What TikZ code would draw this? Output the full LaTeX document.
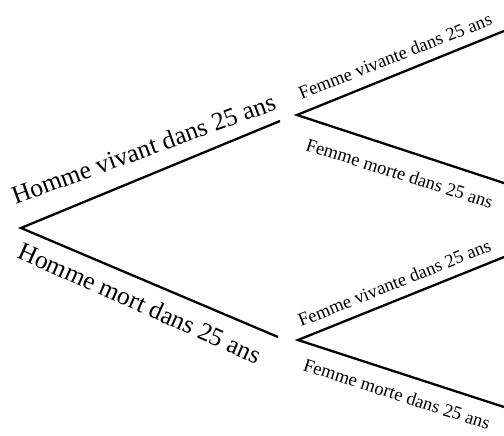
\documentclass[tikz,border=0pt]{standalone}
\usepackage{fontspec}
\setmainfont{Liberation Serif}
\usetikzlibrary{positioning, calc}

\begin{document}
\begin{tikzpicture}[
    x=1bp, y=-1bp,
    branch/.style={line width=2.3bp, line join=miter},
    homme/.style={font=\fontsize{25.7}{30}\selectfont, anchor=base, inner sep=0pt},
    femme/.style={font=\fontsize{18.6}{22}\selectfont, anchor=base, inner sep=0pt},
  ]
    \useasboundingbox (0,0) rectangle (504,436);
    \clip (0,0) rectangle (504,436);

    \coordinate (root) at (21,228);
    \coordinate (hv) at (280,121);
    \coordinate (hm) at (278,337);
    \coordinate (hvs) at (297,115);
    \coordinate (hms) at (298,340);
    \coordinate (hvfv) at (520,24.5);
    \coordinate (hvfm) at (520,188.3);
    \coordinate (hmfv) at (520,250.6);
    \coordinate (hmfm) at (520,412.2);

    \draw[branch] (hv) -- (root) -- (hm);
    \draw[branch] (hvfv) -- (hvs) -- (hvfm);
    \draw[branch] (hmfv) -- (hms) -- (hmfm);

    \node[homme, rotate=20] (lhv) at (146.5,157) {Homme vivant dans 25 ans};
    \node[homme, rotate=-24] (lhm) at (136.5,311) {Homme mort dans 25 ans};
    \node[femme, rotate=21.5] (lhvfv) at (397.5,61.7) {Femme vivante dans 25 ans};
    \node[femme, rotate=-17.5] (lhvfm) at (397.7,179.3) {Femme morte dans 25 ans};
    \node[femme, rotate=21.8] (lhmfv) at (396.7,288.7) {Femme vivante dans 25 ans};
    \node[femme, rotate=-17.8] (lhmfm) at (395,400) {Femme morte dans 25 ans};
\end{tikzpicture}
\end{document}
